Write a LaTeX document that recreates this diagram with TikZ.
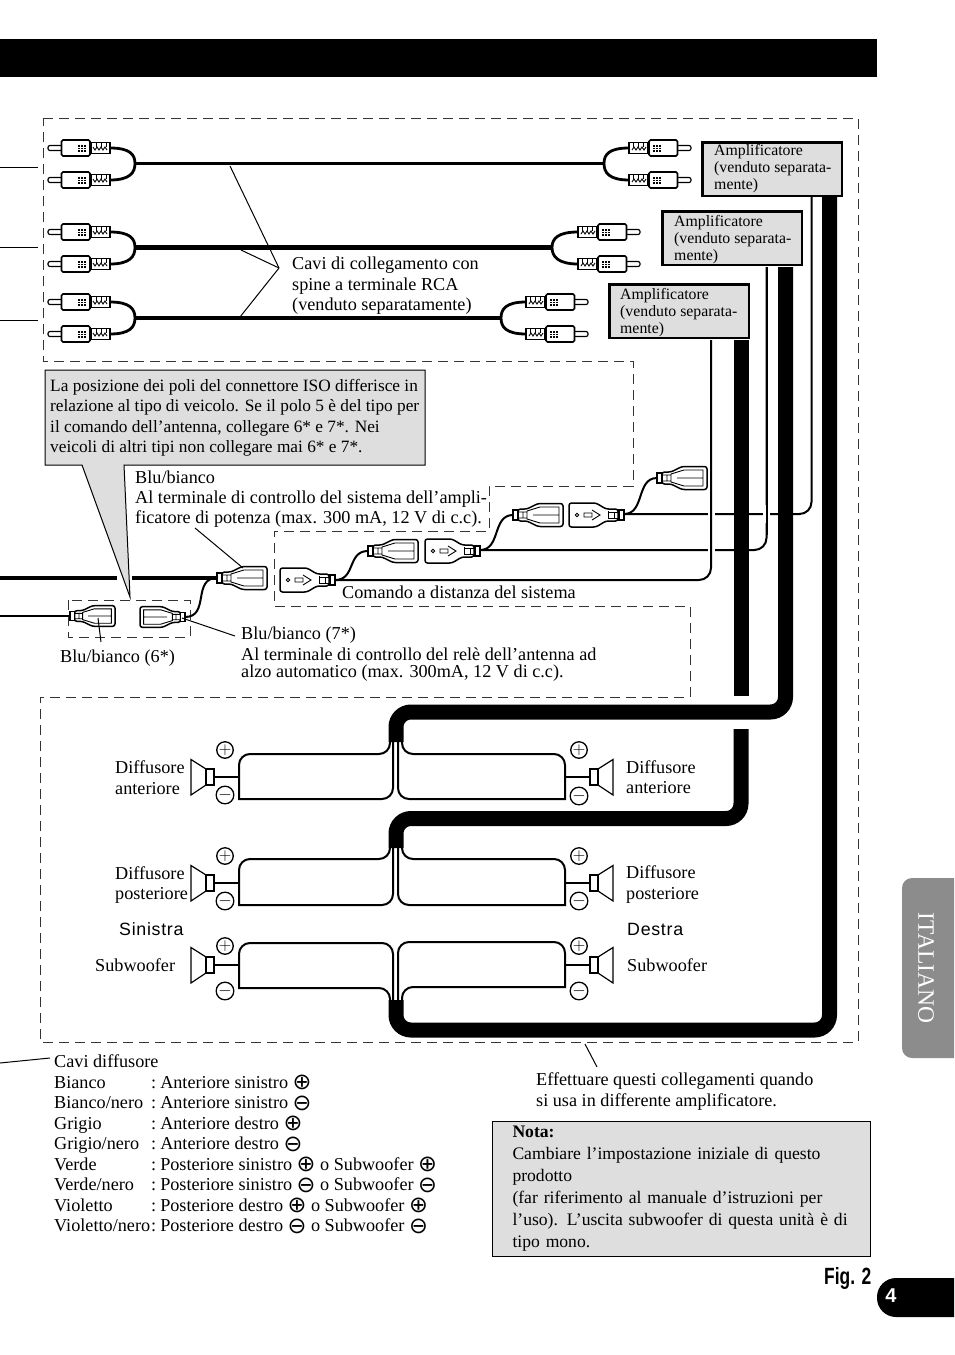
\documentclass[tikz,border=0pt]{standalone}
\usepackage{fontspec}
\setmainfont{Liberation Serif}
\setsansfont{Liberation Sans}
\newfontfamily\symfont{DejaVu Sans}
\newfontfamily\spacedsans[LetterSpace=4]{Liberation Sans}
\definecolor{boxgray}{gray}{0.87}
\definecolor{tabgray}{gray}{0.55}
\newcommand{\pl}{\raisebox{-1.5pt}{\smash{\symfont\fontsize{22.5}{20}\selectfont ⊕}}}
\newcommand{\mi}{\raisebox{-1.5pt}{\smash{\symfont\fontsize{22.5}{20}\selectfont ⊖}}}
\newcommand{\cablerow}[2]{\makebox[97pt][l]{#1}:\hspace{4pt}#2}
\tikzset{
  lbl/.style={inner sep=0pt,anchor=north west,align=left,yshift=14pt,
    font=\fontsize{18.2}{20.5}\selectfont,execute at begin node=\rule{0pt}{14pt}},
  amptext/.style={lbl,font=\fontsize{15.8}{17}\selectfont},
  ampbox/.style={draw,fill=boxgray,line width=2.5pt,anchor=north west,inner sep=0pt,
    minimum width=139.5pt,minimum height=53.5pt},
  pol/.style={draw,circle,line width=1.3pt,inner sep=0pt,minimum size=16pt,font=\fontsize{25}{25}\selectfont},
  sidelabel/.style={anchor=base west,inner sep=0pt,font=\spacedsans\fontsize{17.8}{20}\selectfont},
  dashline/.style={line width=1pt,dash pattern=on 10pt off 6pt,color=black!80},
  leader/.style={line width=1pt},
  rcawire/.style={line width=3.5pt},
  rcatail/.style={line width=2.8pt},
  thinwire/.style={line width=2pt},
  thickwire/.style={line width=15pt,rounded corners=15pt},
  halo/.style={line width=7pt,color=white},
  spkwire/.style={line width=2pt},
  rcaplug/.pic={
    \draw[fill=white,line width=1.2pt,rounded corners=2pt] (-62,-2.5) rectangle (-47,2.5);
    \draw[fill=white,line width=1.6pt,rounded corners=1.5pt] (-48.5,-8) rectangle (-20,8);
    \draw[fill=white,line width=1.3pt] (-19,-5.5) rectangle (0,5.5);
    \draw[line width=.9pt] (-17,-1) -- (-15,2) -- (-13,-1) -- (-11,2) -- (-9,-1) -- (-7,2) -- (-5,-1) -- (-3,2);
    \draw[line width=.6pt] (-14,-5) -- (-14,-1) (-9,-5) -- (-9,-1) (-4,-5) -- (-4,-1);
    \fill (-32,-3.5) rectangle (-24,3.5);
    \draw[white,line width=.5pt] (-32,-1) -- (-24,-1) (-32,1) -- (-24,1) (-29.5,-3.5) -- (-29.5,3.5) (-26.5,-3.5) -- (-26.5,3.5);
  },
  bladefem/.pic={
    \draw[fill=white,line width=1.5pt,rounded corners=2.5pt] (5,-6) -- (14,-6) -- (25,-11.5) -- (50,-11.5) -- (50,11.5) -- (25,11.5) -- (14,6) -- (5,6) -- cycle;
    \draw[fill=white,line width=1.8pt] (0,-5) rectangle (5,5);
    \draw[line width=.9pt] (5,-3) -- (14,-3) (5,3) -- (14,3) (10,-3) -- (10,3) (14,-4) -- (14,4) -- (27,8) -- (46,8) -- (46,-8) -- (27,-8) -- (14,-4) (20,0) -- (46,0);
  },
  blademale/.pic={
    \draw[fill=white,line width=1.5pt,rounded corners=2.5pt] (-6,-6) -- (-18,-6) -- (-28,-12) -- (-55,-12) -- (-55,12) -- (-28,12) -- (-18,6) -- (-6,6) -- cycle;
    \draw[fill=white,line width=1.8pt] (-5,-5) rectangle (0,5);
    \draw[line width=.9pt] (-5,-3) -- (-16,-3) (-5,3) -- (-16,3) (-10,-3) -- (-10,3) (-16,-4) -- (-16,4);
    \draw[line width=.9pt] (-47,0) circle[radius=1.8pt] (-40,-2) rectangle (-32,2) (-32,-5) -- (-24,0) -- (-32,5);
  },
  speaker/.pic={
    \draw[line width=2pt] (0,0) -- (-25,0);
    \draw[fill=white,line width=1.2pt] (-33,-8) -- (-48,-17.5) -- (-48,18) -- (-33,8) -- cycle;
    \draw[fill=white,line width=1.2pt] (-33,-8) rectangle (-25,8);
  },
}
\newcommand{\spkloop}[6]{\draw[spkwire,rounded corners=11pt] (#2,#6) -- (#2,#4) -- (#1,#4) [sharp corners] -- (#1,#5) [rounded corners=11pt] -- (#3,#5) -- (#3,#6);}
\begin{document}
\begin{tikzpicture}[x=1pt,y=-1pt]
\useasboundingbox (0,0) rectangle (954,1355);

% page furniture
\fill (0,39) rectangle (877,77);
\fill[tabgray] (954,878) [rounded corners=10pt] -- (902,878) -- (902,1058) [sharp corners] -- (954,1058) -- cycle;
\node[rotate=-90,text=white,font=\fontsize{23.5}{24}\selectfont,inner sep=0pt] (tabname) at (926,968) {ITALIANO};
\fill (954,1278) [rounded corners=19pt] -- (877,1278) -- (877,1317) [sharp corners] -- (954,1317) -- cycle;
\node[text=white,font=\bfseries\sffamily\fontsize{20}{20}\selectfont,inner sep=0pt] (pagenum) at (891,1296) {4};
\node[anchor=base west,inner sep=0pt,font=\bfseries\sffamily\fontsize{23.5}{24}\selectfont] (figlabel) at (824,1284) {\scalebox{0.74}[1]{Fig. 2}};

% dashed outline
\draw[dashline] (43,118) -- (858,118) -- (858,1042) -- (40,1042) -- (40,697) -- (690,697) -- (690,606) -- (274,606) -- (274,531) -- (489,531) -- (489,486) -- (633,486) -- (633,361) -- (43,361) -- cycle;
\draw[dashline] (68,600) rectangle (190,637);

% left stubs
\coordinate (stuba) at (38,167);
\coordinate (stubb) at (38,247);
\coordinate (stubc) at (38,320);
\draw[leader] (0,167) -- (stuba);
\draw[leader] (0,247) -- (stubb);
\draw[leader] (0,320) -- (stubc);

% rca cables
\coordinate (jla) at (135,163.5);
\coordinate (jra) at (604,163.5);
\coordinate (jlb) at (135,247.5);
\coordinate (jrb) at (552,247.5);
\coordinate (jlc) at (135,318);
\coordinate (jrc) at (501,318);
\draw[rcawire] (jla) -- (jra);
\draw[rcawire,line width=4.5pt] (jlb) -- (jrb);
\draw[rcawire] (jlc) -- (jrc);
\foreach \xa/\xb/\ya/\yb/\ym in {110/135/148/180/163.5,110/135/232/264/247.5,110/135/302/334/318}{
  \draw[rcatail] (\xa,\ya) .. controls (\xa+20,\ya) and (\xb,\ym-9) .. (\xb,\ym) .. controls (\xb,\ym+9) and (\xa+20,\yb) .. (\xa,\yb);
  \pic at (\xa,\ya) {rcaplug};
  \pic at (\xa,\yb) {rcaplug};
}
\foreach \xa/\xb/\ya/\yb/\ym in {629/604/148/180/163.5,578/552/232/264/247.5,526/501/302/334/318}{
  \draw[rcatail] (\xa,\ya) .. controls (\xa-20,\ya) and (\xb,\ym-9) .. (\xb,\ym) .. controls (\xb,\ym+9) and (\xa-20,\yb) .. (\xa,\yb);
  \pic[xscale=-1] at (\xa,\ya) {rcaplug};
  \pic[xscale=-1] at (\xa,\yb) {rcaplug};
}

% amplifiers
\node[ampbox] (ampa) at (701,141) {};
\node[amptext] (ampatext) at (714,158) {Amplificatore\\(venduto separata-\\mente)};
\node[ampbox] (ampb) at (661,210) {};
\node[amptext] (ampbtext) at (674,229) {Amplificatore\\(venduto separata-\\mente)};
\node[ampbox] (ampc) at (608,283) {};
\node[amptext] (ampctext) at (620,302) {Amplificatore\\(venduto separata-\\mente)};

% labels, leaders to rca cables
\node[lbl] (cavilabel) at (292,271) {Cavi di collegamento con\\spine a terminale RCA\\(venduto separatamente)};
\coordinate (cavihub) at (279,268);
\draw[leader] (230,166) -- (cavihub);
\draw[leader] (241,250) -- (cavihub);
\draw[leader] (240,317) -- (cavihub);

% control wires
\coordinate (wa) at (335,580);
\coordinate (wb) at (480,550);
\coordinate (wc) at (624,514);
\draw[thinwire,rounded corners=12pt] (wc) -- (811.5,514) -- (811.5,197);
\draw[thinwire,rounded corners=12pt] (wb) -- (766.5,550) -- (766.5,267);
\draw[halo] (711,505) -- (711,560);
\draw[halo] (766.5,505) -- (766.5,523);
\draw[thinwire,rounded corners=12pt] (wa) -- (711,580) -- (711,340);
\draw[thinwire,rounded corners=12pt] (766.5,535) -- (766.5,267);
\draw[thinwire] (wa) .. controls (356,580) and (347,551) .. (368,551);
\draw[thinwire] (wb) .. controls (501,550) and (492,515) .. (513,515);
\draw[thinwire] (wc) .. controls (645,514) and (636,478) .. (657,478);
\pic at (335,580) {blademale};
\pic at (368,551) {bladefem};
\pic at (480,551) {blademale};
\pic at (513,515) {bladefem};
\pic at (624,515) {blademale};
\pic at (657,478) {bladefem};

% amplifier to speaker bundles
\coordinate (bundleb) at (396,742);
\coordinate (bundlec) at (396,848);
\coordinate (bundlea) at (396,1000);
\draw[thickwire] (741,340) -- (741,696);
\draw[thickwire] (741,729) -- (741,818.5) -- (396,818.5) -- (bundlec);
\draw[thickwire] (785.5,267) -- (785.5,712) -- (396,712) -- (bundleb);
\draw[thickwire] (829.5,197) -- (829.5,1030) -- (396,1030) -- (bundlea);

% speakers
\spkloop{239}{390}{393}{754}{799}{742}
\spkloop{565}{402}{398}{754}{799}{742}
\spkloop{239}{390}{393}{859}{905}{848}
\spkloop{565}{402}{398}{859}{905}{848}
\spkloop{239}{393}{390}{943}{988}{1000}
\spkloop{565}{398}{402}{942}{987}{1000}
\pic at (239,777) {speaker};
\pic[xscale=-1] at (565,777) {speaker};
\pic at (239,883) {speaker};
\pic[xscale=-1] at (565,883) {speaker};
\pic at (239,965) {speaker};
\pic[xscale=-1] at (565,965) {speaker};
\foreach \nm/\xp/\yp/\ym in {la/225/750/795,ra/579/750/796,lb/225/856/901,rb/579/856/901,lc/225/946/991,rc/579/946/991}{
  \node[pol] (plus\nm) at (\xp,\yp) {$\scriptstyle+$};
  \node[pol] (minus\nm) at (\xp,\ym) {$\scriptstyle\vphantom{+}-$};
}
\node[lbl] (frontl) at (115,774) {Diffusore\\[.5pt]anteriore};
\node[lbl] (frontr) at (626,774) {Diffusore\\anteriore};
\node[lbl] (rearl) at (115,880) {Diffusore\\posteriore};
\node[lbl] (rearr) at (626,879) {Diffusore\\[.5pt]posteriore};
\node[sidelabel] (sinistra) at (119,935) {Sinistra};
\node[sidelabel] (destra) at (627,935) {Destra};
\node[lbl] (subl) at (95,971) {Subwoofer};
\node[lbl] (subr) at (627,971) {Subwoofer};

% iso connector side
\draw[line width=3.5pt] (0,578) -- (117,578);
\draw[line width=3.5pt] (132,578) -- (217,578);
\draw[thinwire] (0,616) -- (70,616);
\draw[thinwire] (185,617) .. controls (210,617) and (192,578) .. (217,578);
\pic at (217,578) {bladefem};
\pic[scale=.9] at (70,616) {bladefem};
\pic[xscale=-.9,yscale=.9] at (185,617) {bladefem};

% callout
\draw[fill=boxgray,line width=1pt] (45,370) -- (425,370) -- (425,465) -- (124,465) -- (130,597) -- (82,465) -- (45,465) -- cycle;
\node[lbl,font=\fontsize{17.3}{20.5}\selectfont] (isonote) at (50,393) {La posizione dei poli del connettore ISO differisce in\\relazione al tipo di veicolo. Se il polo 5 è del tipo per\\il comando dell’antenna, collegare 6* e 7*. Nei\\veicoli di altri tipi non collegare mai 6* e 7*.};

\node[lbl] (amptxt) at (135,485) {Blu/bianco\\[-.5pt]Al terminale di controllo del sistema dell’ampli-\\[-1pt]ficatore di potenza (max. 300 mA, 12 V di c.c).};
\coordinate (ampctl) at (243,568);
\draw[leader] (195,528) -- (ampctl);
\node[lbl] (remote) at (342,598) {Comando a distanza del sistema};
\node[lbl] (lbsix) at (60,662) {Blu/bianco (6*)};
\coordinate (pinsix) at (98,618);
\draw[leader] (pinsix) -- (101,642);
\node[lbl] (lbseven) at (241,641) {Blu/bianco (7*)\\Al terminale di controllo del relè dell’antenna ad\\[-3pt]alzo automatico (max. 300mA, 12 V di c.c).};
\coordinate (pinseven) at (182,618);
\draw[leader] (pinseven) -- (235,636);

% cable list
\coordinate (listend) at (50,1058);
\draw[leader] (0,1063) -- (listend);
\node[lbl] (cablelist) at (54,1068) {Cavi diffusore\\[.5pt]
\cablerow{Bianco}{Anteriore sinistro \pl}\\
\cablerow{Bianco/nero}{Anteriore sinistro \mi}\\
\cablerow{Grigio}{Anteriore destro \pl}\\
\cablerow{Grigio/nero}{Anteriore destro \mi}\\
\cablerow{Verde}{Posteriore sinistro \pl\ o Subwoofer \pl}\\
\cablerow{Verde/nero}{Posteriore sinistro \mi\ o Subwoofer \mi}\\
\cablerow{Violetto}{Posteriore destro \pl\ o Subwoofer \pl}\\
\cablerow{Violetto/nero}{Posteriore destro \mi\ o Subwoofer \mi}};

\coordinate (diffamp) at (597,1067);
\draw[leader] (585,1044) -- (diffamp);
\node[lbl] (difftext) at (536,1086.5) {Effettuare questi collegamenti quando\\si usa in differente amplificatore.};

% note
\node[draw,fill=boxgray,line width=1pt,anchor=north west,inner xsep=20pt,inner ysep=0pt,text width=338pt,minimum height=135pt,align=left,font=\fontsize{17.6}{22}\selectfont] (nota) at (492,1121) {\textbf{Nota:}\\Cambiare l’impostazione iniziale di questo\\prodotto\\(far riferimento al manuale d’istruzioni per\\l’uso). L’uscita subwoofer di questa unità è di\\tipo mono.};
\end{tikzpicture}
\end{document}
